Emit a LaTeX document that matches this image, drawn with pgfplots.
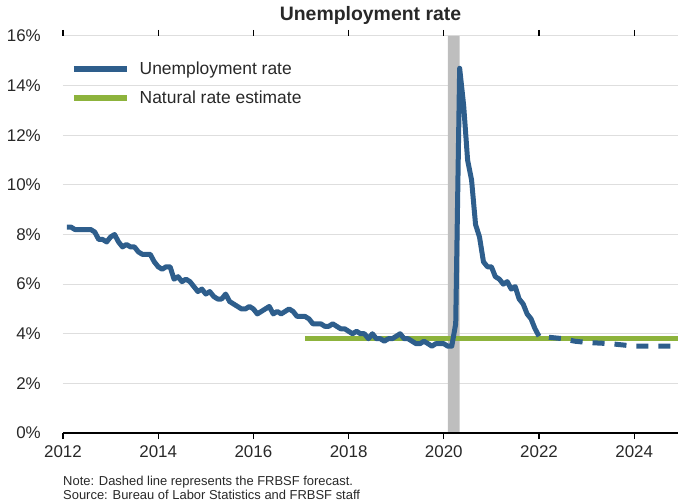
\documentclass[border=0pt]{standalone}
\usepackage{pgfplots}
\pgfplotsset{compat=1.18}
\usepackage{pgfplotstable}
\usepackage{fontspec}
\setmainfont{Liberation Sans}

\definecolor{ublue}{RGB}{46,94,140}
\definecolor{ngreen}{RGB}{141,179,60}
\definecolor{band}{RGB}{190,190,190}
\definecolor{txt}{RGB}{40,40,40}
\definecolor{gridc}{RGB}{222,222,222}

% monthly rate, month m of year y at y + m/12
\pgfplotstableread{
t u
2012.083 8.3
2012.167 8.3
2012.250 8.2
2012.333 8.2
2012.417 8.2
2012.500 8.2
2012.583 8.2
2012.667 8.1
2012.750 7.8
2012.833 7.8
2012.917 7.7
2013.000 7.9
2013.083 8.0
2013.167 7.7
2013.250 7.5
2013.333 7.6
2013.417 7.5
2013.500 7.5
2013.583 7.3
2013.667 7.2
2013.750 7.2
2013.833 7.2
2013.917 6.9
2014.000 6.7
2014.083 6.6
2014.167 6.7
2014.250 6.7
2014.333 6.2
2014.417 6.3
2014.500 6.1
2014.583 6.2
2014.667 6.1
2014.750 5.9
2014.833 5.7
2014.917 5.8
2015.000 5.6
2015.083 5.7
2015.167 5.5
2015.250 5.4
2015.333 5.4
2015.417 5.6
2015.500 5.3
2015.583 5.2
2015.667 5.1
2015.750 5.0
2015.833 5.0
2015.917 5.1
2016.000 5.0
2016.083 4.8
2016.167 4.9
2016.250 5.0
2016.333 5.1
2016.417 4.8
2016.500 4.9
2016.583 4.8
2016.667 4.9
2016.750 5.0
2016.833 4.9
2016.917 4.7
2017.000 4.7
2017.083 4.7
2017.167 4.6
2017.250 4.4
2017.333 4.4
2017.417 4.4
2017.500 4.3
2017.583 4.3
2017.667 4.4
2017.750 4.3
2017.833 4.2
2017.917 4.2
2018.000 4.1
2018.083 4.0
2018.167 4.1
2018.250 4.0
2018.333 4.0
2018.417 3.8
2018.500 4.0
2018.583 3.8
2018.667 3.8
2018.750 3.7
2018.833 3.8
2018.917 3.8
2019.000 3.9
2019.083 4.0
2019.167 3.8
2019.250 3.8
2019.333 3.7
2019.417 3.6
2019.500 3.6
2019.583 3.7
2019.667 3.6
2019.750 3.5
2019.833 3.6
2019.917 3.6
2020.000 3.6
2020.083 3.5
2020.167 3.5
2020.250 4.4
2020.333 14.7
2020.417 13.2
2020.500 11.0
2020.583 10.2
2020.667 8.4
2020.750 7.9
2020.833 6.9
2020.917 6.7
2021.000 6.7
2021.083 6.3
2021.167 6.2
2021.250 6.0
2021.333 6.1
2021.417 5.8
2021.500 5.9
2021.583 5.4
2021.667 5.2
2021.750 4.8
2021.833 4.6
2021.917 4.2
2022.000 3.9
}\urate

\pgfplotstableread{
t u
2022.000 3.9
2022.500 3.8
2022.750 3.7
2023.000 3.65
2023.500 3.6
2024.000 3.5
2024.920 3.5
}\fcast

\begin{document}
\begin{tikzpicture}
\begin{axis}[
  scale only axis,
  width=615bp, height=397bp,
  xmin=2012, xmax=2024.92,
  ymin=0, ymax=16,
  xtick={2012,2014,...,2024},
  ytick={0,2,...,16},
  /pgf/number format/assume math mode=true,
  xticklabel style={/pgf/number format/1000 sep={}, font=\fontsize{17}{20}\selectfont, text=txt, yshift=-3bp},
  yticklabel={\pgfmathprintnumber{\tick}\%},
  yticklabel style={font=\fontsize{17}{20}\selectfont, text=txt, inner sep=0pt, xshift=-16bp},
  axis line style={draw=none},
  ymajorgrids, major grid style={gridc, line width=1bp},
  tick align=outside,
  xtick style={black, line width=1.2bp},
  major tick length=6bp,
  ytick style={draw=none},
  title={Unemployment rate},
  title style={font=\bfseries\fontsize{19.5}{23}\selectfont, text=txt, anchor=base, yshift=10bp},
  legend style={at={(0,1)}, anchor=north west, xshift=5bp, yshift=-22bp,
    draw=none, fill=none, font=\fontsize{17.5}{21}\selectfont, text=txt,
    row sep=10.5bp, /tikz/every odd column/.append style={column sep=8bp}},
  legend cell align=left,
  legend image code/.code={\draw[#1, line width=5.5bp] (0bp,0bp) -- (53bp,0bp);},
  clip=false,
]
\addplot[fill=band, draw=none, forget plot] coordinates {(2020.083,0) (2020.083,16) (2020.333,16) (2020.333,0)} \closedcycle;
\addlegendimage{ublue}
\addlegendentry{Unemployment rate}
\addlegendimage{ngreen}
\addlegendentry{Natural rate estimate}
\addplot[ngreen, line width=5bp, forget plot] coordinates {(2017.08,3.8) (2024.92,3.8)};
\addplot[ublue, line width=5bp, line join=round, forget plot] table {\urate};
\addplot[ublue, line width=5bp, dash pattern=on 12bp off 10bp, dash phase=12bp, forget plot] table {\fcast};
\draw[black, line width=2bp] (rel axis cs:0,0) -- (rel axis cs:1,0);
\coordinate (bl) at (rel axis cs:0,0);
\end{axis}
\node[anchor=base west, inner sep=0pt, font=\fontsize{13}{15}\selectfont, text=txt] at ([yshift=-52bp]bl) {Note: Dashed line represents the FRBSF forecast.};
\node[anchor=base west, inner sep=0pt, font=\fontsize{13}{15}\selectfont, text=txt] at ([yshift=-66bp]bl) {Source: Bureau of Labor Statistics and FRBSF staff};
\pgfresetboundingbox
\path (bl) ++(-63bp,-68bp) rectangle ++(678bp,501bp);
\end{tikzpicture}
\end{document}
